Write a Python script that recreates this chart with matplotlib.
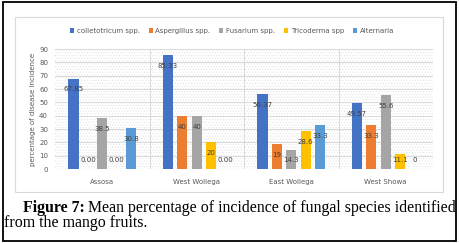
import matplotlib
matplotlib.use("Agg")
import matplotlib.pyplot as plt
from matplotlib.patches import Rectangle
import numpy as np

regions = ["Assosa", "West Wollega", "East Wollega", "West Showa"]
species = ["colletotricum spp.", "Aspergillus spp.", "Fusarium spp.", "Tricoderma spp", "Alternaria"]
colletotricum = [67.85, 85.33, 56.37, 49.57]
aspergillus = [0, 40, 19, 33.3]
fusarium = [38.5, 40, 14.3, 55.6]
tricoderma = [0, 20, 28.6, 11.1]
alternaria = [30.8, 0, 33.3, 0]
labels = [
    ["67.85", "85.33", "56.37", "49.57"],
    ["0.00", "40", "19", "33.3"],
    ["38.5", "40", "14.3", "55.6"],
    ["0.00", "20", "28.6", "11.1"],
    ["30.8", "0.00", "33.3", "0"],
]
colors = ["#4472C4", "#ED7D31", "#A5A5A5", "#FFC000", "#5B9BD5"]
series = [colletotricum, aspergillus, fusarium, tricoderma, alternaria]

plt.rcParams["hatch.linewidth"] = 0.4
fig = plt.figure(figsize=(4.59, 2.43), dpi=100)
ax = fig.add_axes([55 / 459, 1 - 169 / 243, 378 / 459, 120 / 243])

# outer black frame and light chart frame
fig.patches.append(Rectangle((2.5 / 459, 1 - 241 / 243), 453.5 / 459, 238.5 / 243,
                             transform=fig.transFigure, fill=False, edgecolor="black", linewidth=1.3))
fig.patches.append(Rectangle((15 / 459, 1 - 192 / 243), 428 / 459, 175 / 243,
                             transform=fig.transFigure, fill=False, edgecolor="#d9d9d9", linewidth=0.8))

# hatched plot background
ax.add_patch(Rectangle((0, 0), 1, 1, transform=ax.transAxes, facecolor="white",
                       hatch="......", edgecolor="#e2e2e2", linewidth=0, zorder=0))

x = np.arange(len(regions))
slot = 0.152
width = 0.107
for i, vals in enumerate(series):
    pos = x + (i - 2) * slot
    ax.bar(pos, vals, width, color=colors[i], label=species[i], zorder=3)
    for p, v, t in zip(pos, vals, labels[i]):
        ax.text(p, max(v - 8.2, 6.8), t, ha="center", va="center", fontsize=5, color="#404040", zorder=4)

ax.set_xlim(-0.5, 3.5)
ax.set_ylim(0, 90)
ax.set_yticks(range(0, 91, 10))
for y in range(10, 91, 10):
    ax.axhline(y, color="#d9d9d9", linewidth=0.7, zorder=1)
for b in [0.5, 1.5, 2.5]:
    ax.axvline(b, color="#d9d9d9", linewidth=0.7, zorder=1)
ax.axhline(0, color="#d9d9d9", linewidth=0.8, zorder=2)
for s in ax.spines.values():
    s.set_visible(False)
ax.set_xticks(x)
ax.set_xticklabels(regions)
ax.tick_params(axis="both", length=0, labelsize=5, colors="#595959")
ax.tick_params(axis="x", pad=7)
ax.tick_params(axis="y", pad=5)
fig.text(33 / 459, 1 - 109 / 243, "percentage of disease incidence", rotation=90,
         ha="center", va="center", fontsize=5, color="#595959")

fig.legend(loc="center", bbox_to_anchor=(232 / 459, 1 - 31 / 243), ncol=5, frameon=False,
           fontsize=5, handlelength=0.6, handleheight=0.6, handletextpad=0.4,
           columnspacing=1.25, labelcolor="#595959")

# caption
rend = fig.canvas.get_renderer()
t1 = fig.text(23 / 459, 1 - 208 / 243, "Figure 7:", fontsize=11.4, fontweight="bold",
              family="Liberation Serif", va="center")
bb = t1.get_window_extent(rend)
fig.text(bb.x1 / 459 + 3 / 459, 1 - 208 / 243, "Mean percentage of incidence of fungal species identified",
         fontsize=11.4, family="Liberation Serif", va="center")
fig.text(4 / 459, 1 - 223 / 243, "from the mango fruits.", fontsize=11.4, family="Liberation Serif", va="center")

fig.savefig("out.png", dpi=100)
